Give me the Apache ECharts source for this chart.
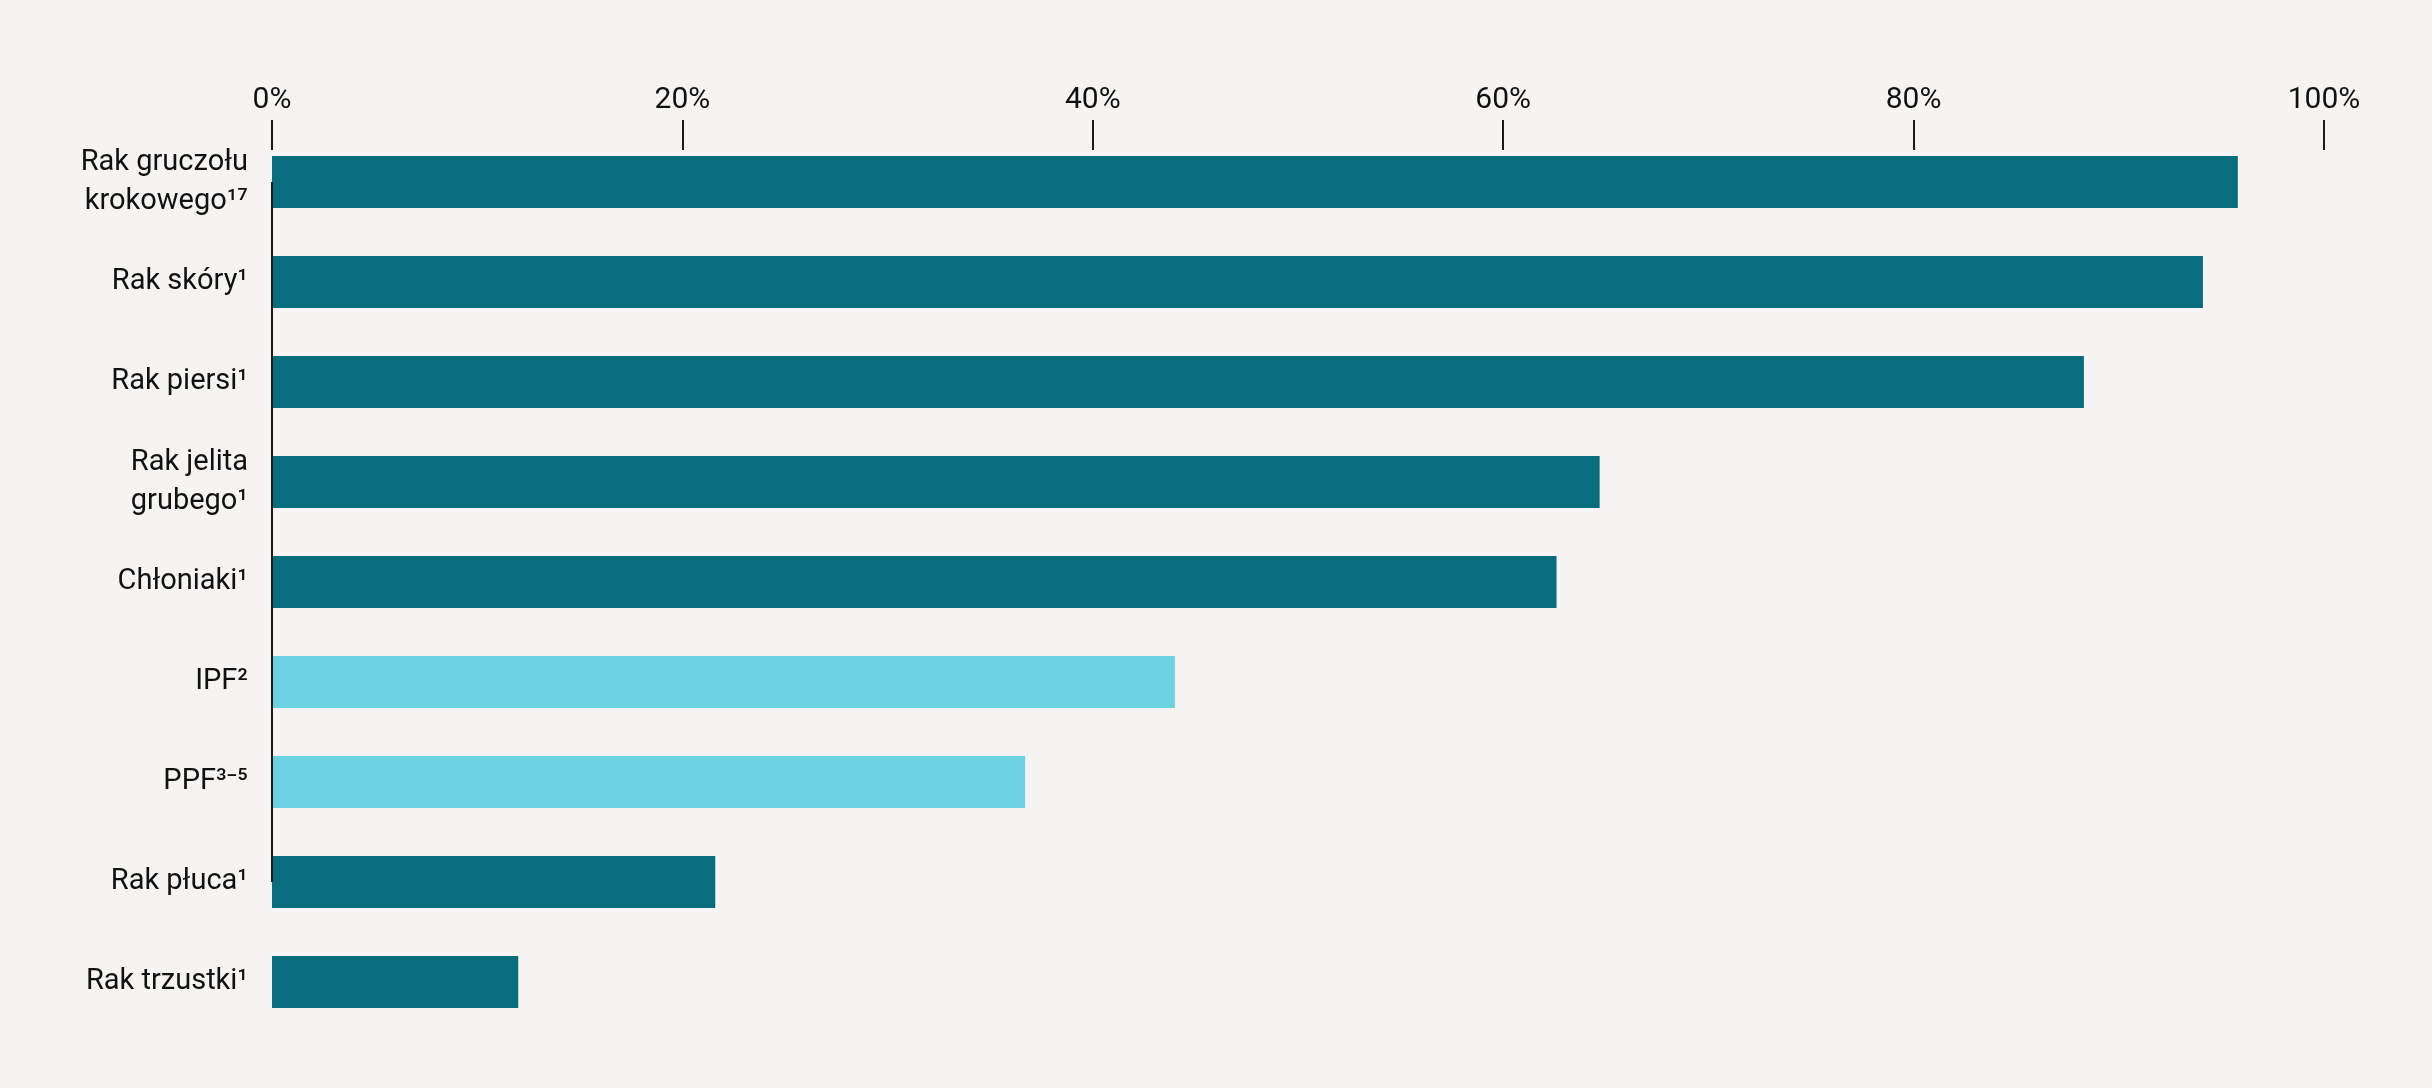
<!DOCTYPE html>
<html>
<head>
<meta charset="utf-8">
<script src="https://cdn.jsdelivr.net/npm/echarts@6/dist/echarts.min.js"></script>
<style>
html,body{margin:0;padding:0;background:#f5f4f2;}
#chart{width:2432px;height:1088px;}
</style>
</head>
<body>
<div id="chart"></div>
<script>
// Data
const categories = [
  'Rak gruczołu\nkrokowego¹⁷',
  'Rak skóry¹',
  'Rak piersi¹',
  'Rak jelita\ngrubego¹',
  'Chłoniaki¹',
  'IPF²',
  'PPF³⁻⁵',
  'Rak płuca¹',
  'Rak trzustki¹'
];
const values = [95.8, 94.1, 88.3, 64.7, 62.6, 44.0, 36.7, 21.6, 12.0];
const groups = ['cancer','cancer','cancer','cancer','cancer','fibrosis','fibrosis','cancer','cancer'];
const xTicks = [0, 20, 40, 60, 80, 100];

const groupColors = { cancer: '#0a6d7e', fibrosis: '#6cd2e2' };
const FONT = 'Roboto, "Noto Sans", sans-serif';

const chart = echarts.init(document.getElementById('chart'));
chart.setOption({
  backgroundColor: '#f5f4f2',
  animation: false,
  grid: { left: 272, right: 108, top: 132, bottom: 56, containLabel: false },
  xAxis: {
    type: 'value',
    position: 'top',
    min: xTicks[0],
    max: xTicks[xTicks.length - 1],
    interval: 20,
    offset: 12,
    axisLine: { show: false },
    axisTick: { show: true, inside: true, length: 30, lineStyle: { color: '#1a1a1a', width: 2 } },
    splitLine: { show: false },
    axisLabel: {
      formatter: '{value}%',
      color: '#111',
      fontFamily: FONT,
      fontSize: 30,
      margin: 5
    }
  },
  yAxis: {
    type: 'category',
    data: categories,
    inverse: true,
    axisLine: { show: false },
    axisTick: { show: false },
    axisLabel: {
      color: '#111',
      fontFamily: FONT,
      fontSize: 29,
      lineHeight: 39,
      margin: 24,
      align: 'right'
    }
  },
  series: [{
    type: 'bar',
    barWidth: 52,
    data: values.map((v, i) => ({ value: v, itemStyle: { color: groupColors[groups[i]] } })),
    markLine: {
      silent: true,
      symbol: 'none',
      label: { show: false },
      lineStyle: { color: '#1a1a1a', width: 2, type: 'solid' },
      data: [[{ coord: [0, 0] }, { coord: [0, 6.9] }]]
    }
  }]
});
</script>
</body>
</html>
